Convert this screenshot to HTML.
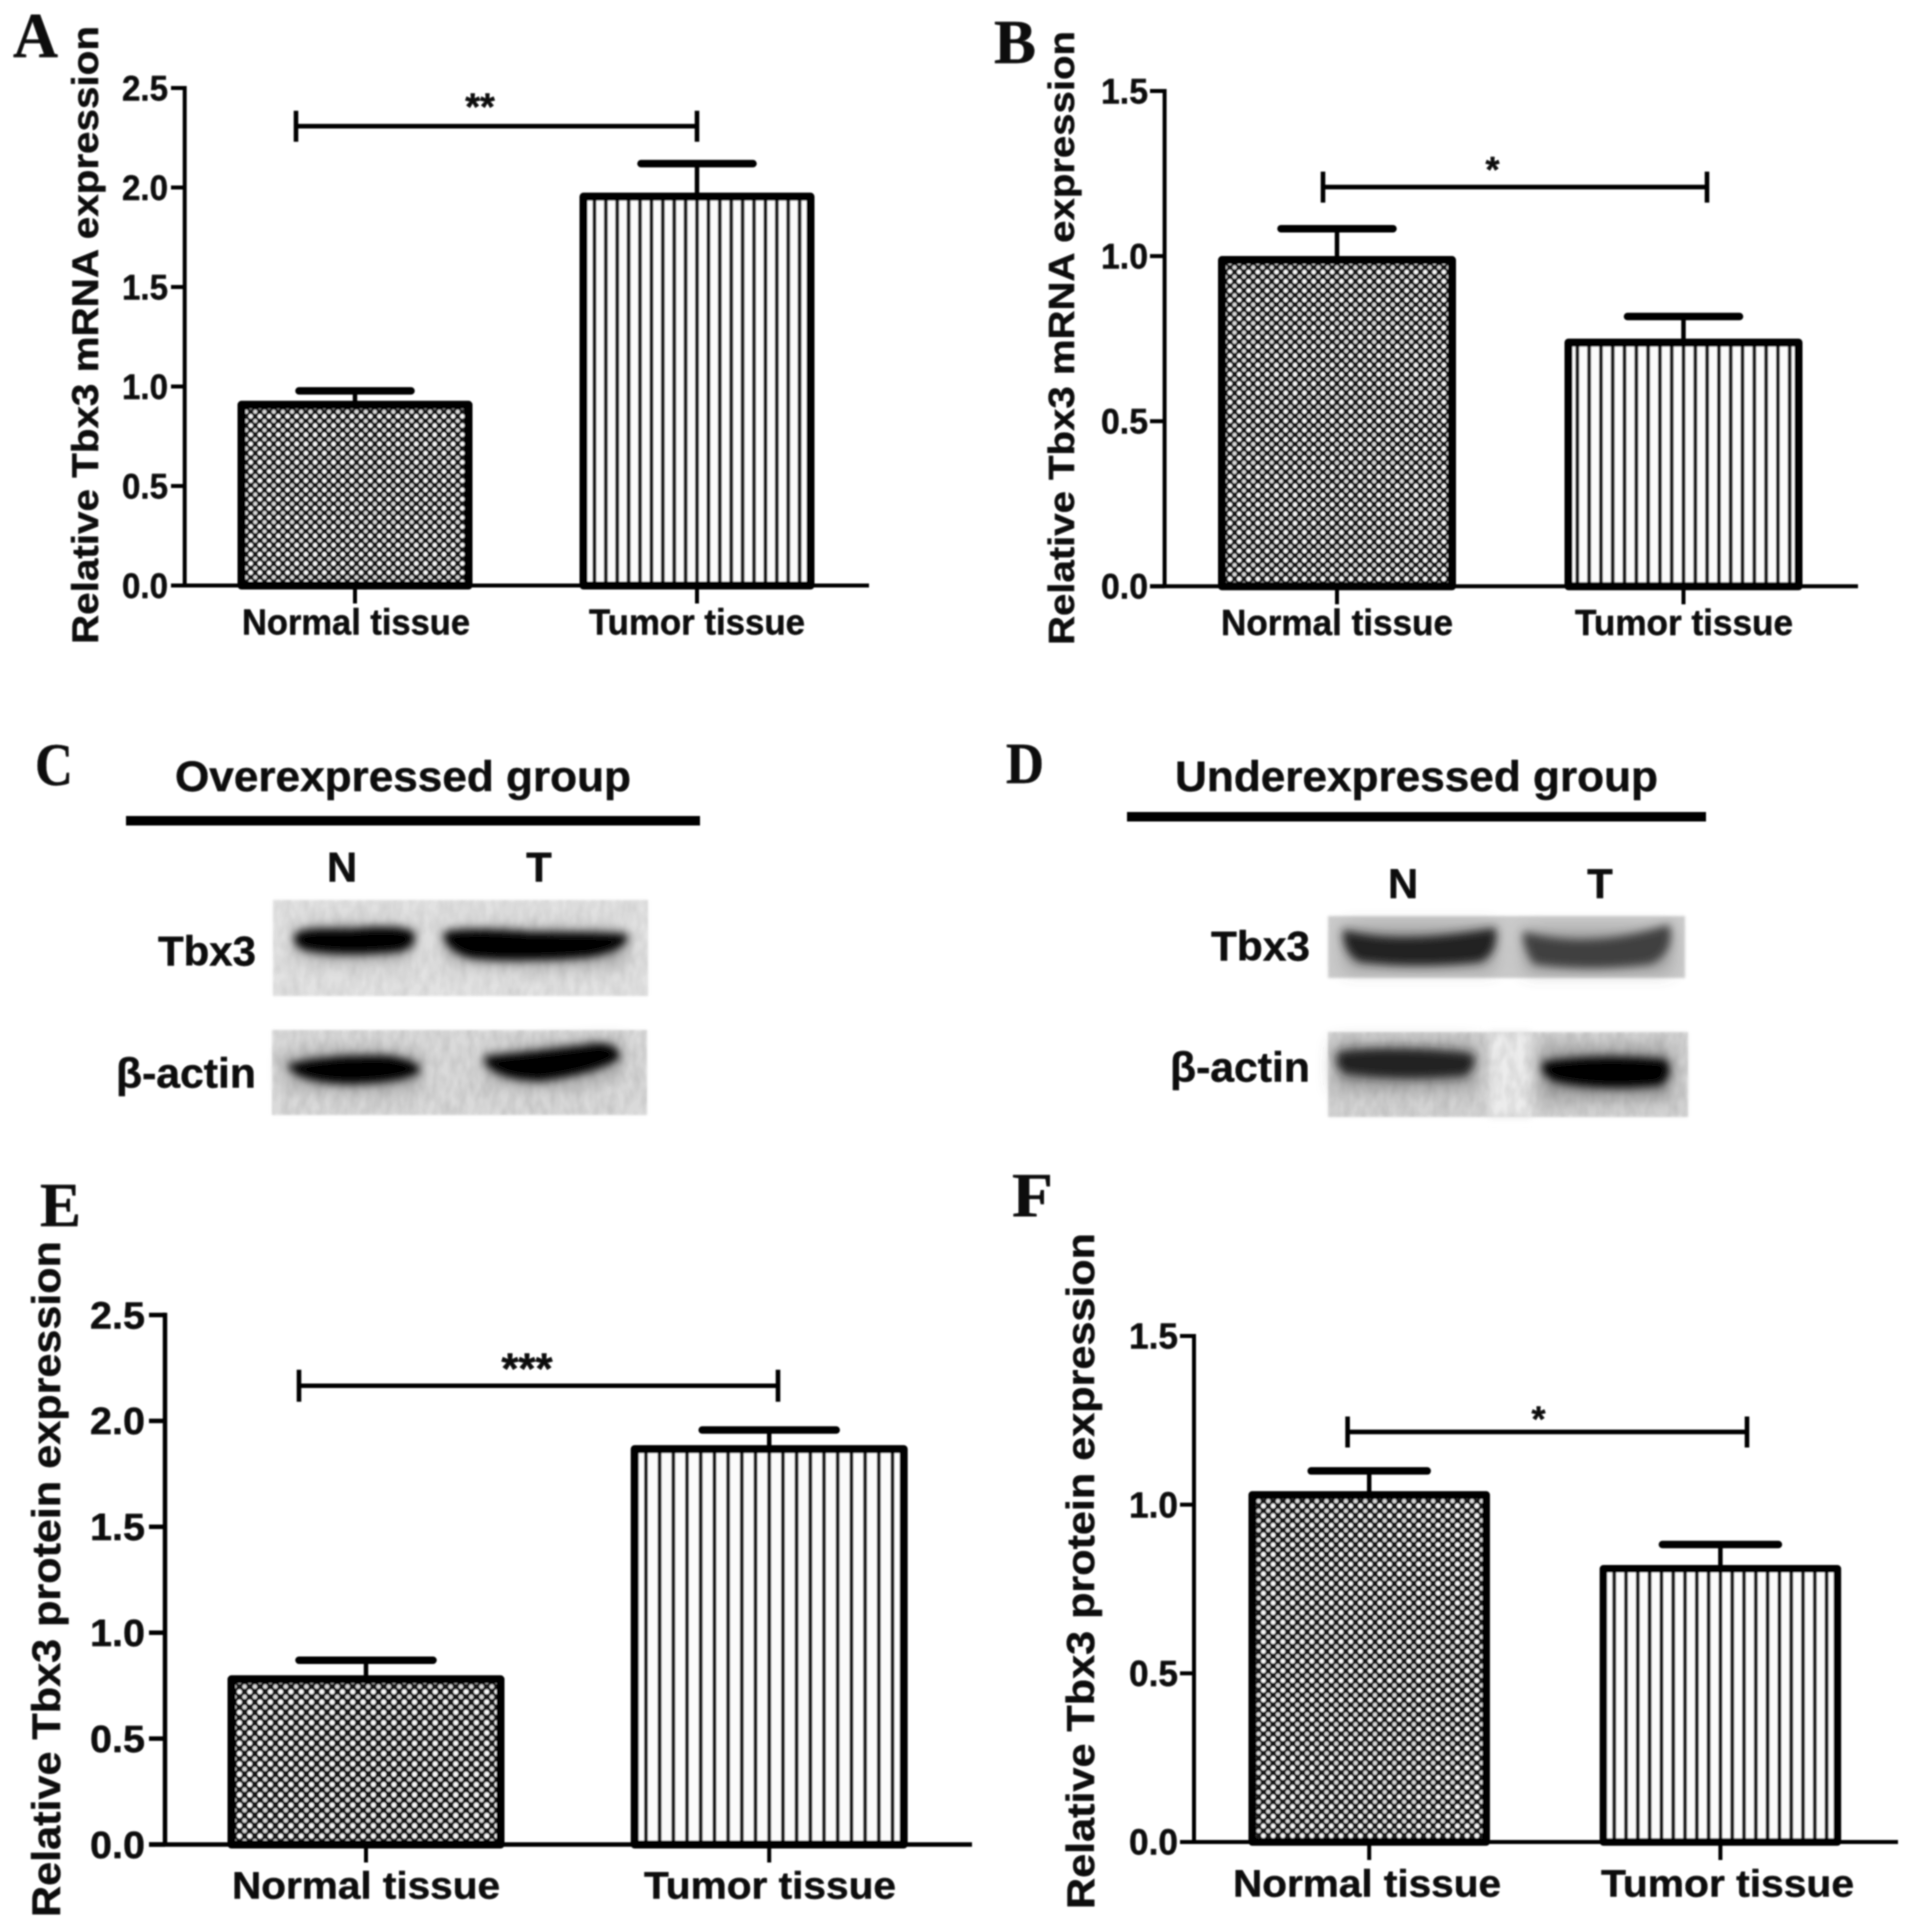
<!DOCTYPE html>
<html lang="en">
<head>
<meta charset="utf-8">
<title>Tbx3 expression figure</title>
<style>
html,body{margin:0;padding:0;background:#fff;}
svg{display:block;}
text{font-family:"Liberation Sans","DejaVu Sans",sans-serif;font-weight:bold;fill:#080808;stroke:#080808;stroke-width:0.4;}
.letter{font-family:"Liberation Serif","DejaVu Serif",serif;font-weight:bold;}
</style>
</head>
<body>
<svg id="figure" xmlns="http://www.w3.org/2000/svg" width="1913" height="1931" viewBox="0 0 1913 1931">
  <defs>
    <filter id="soft" x="-2%" y="-2%" width="104%" height="104%"><feGaussianBlur stdDeviation="0.8"/></filter>
    <filter id="bandBlur" x="-20%" y="-80%" width="140%" height="260%"><feGaussianBlur stdDeviation="4.4"/></filter>
    <filter id="haloBlur" x="-30%" y="-120%" width="160%" height="340%"><feGaussianBlur stdDeviation="9"/></filter>
    <filter id="grain" x="0" y="0" width="100%" height="100%">
      <feTurbulence type="fractalNoise" baseFrequency="0.12 0.06" numOctaves="2" seed="4"/>
      <feColorMatrix type="matrix" values="0 0 0 0 0  0 0 0 0 0  0 0 0 0 0  1.5 0 0 0 -0.45"/>
    </filter>
    <filter id="edge"><feGaussianBlur stdDeviation="1.2"/></filter>
  </defs>
  <rect x="0" y="0" width="1913" height="1931" fill="#ffffff"/>
  <g id="root" filter="url(#soft)">

    <g>
      <text class="letter" x="35" y="785" font-size="60" textLength="38" lengthAdjust="spacingAndGlyphs">C</text>
      <text x="175" y="791" font-size="43" textLength="456" lengthAdjust="spacingAndGlyphs">Overexpressed group</text>
      <rect x="126" y="816" width="574" height="9.5" fill="#000"/>
      <text x="342" y="881.5" font-size="42" text-anchor="middle">N</text>
      <text x="539" y="881.5" font-size="42" text-anchor="middle">T</text>
      <text x="158" y="965.5" font-size="42" textLength="98" lengthAdjust="spacingAndGlyphs">Tbx3</text>
      <text x="116" y="1087.5" font-size="42" textLength="140" lengthAdjust="spacingAndGlyphs">β-actin</text>

      <g>
        <rect filter="url(#edge)" x="273" y="900" width="375" height="96" fill="#e2e2e2"/>
        <rect filter="url(#grain)" x="273" y="900" width="375" height="96" opacity="0.08"/>
        <g transform="translate(0,3.5)">
          <path filter="url(#haloBlur)" opacity="0.4" d="M296,925 Q350,918 413,925 L413,955 Q350,962 296,955Z M445,925 Q530,922 626,928 L626,962 Q530,968 445,958Z" fill="#555"/>
          <path filter="url(#bandBlur)" stroke="#000" stroke-width="3" d="M296,932 Q300,925 350,927 Q400,922 413,930 Q415,945 395,947 Q340,952 305,945 Q293,940 296,932Z" fill="#000"/>
          <path filter="url(#bandBlur)" stroke="#000" stroke-width="3" d="M445,930 Q470,925 530,930 Q600,930 626,932 Q628,945 590,952 Q520,958 470,953 Q445,945 445,930Z" fill="#000"/>
        </g>
      </g>
      <g>
        <rect filter="url(#edge)" x="272" y="1030" width="375" height="85" fill="#dadada"/>
        <rect filter="url(#grain)" x="272" y="1030" width="375" height="85" opacity="0.1"/>
        <path filter="url(#haloBlur)" opacity="0.4" transform="translate(0,5)" d="M285,1050 Q350,1042 420,1050 L420,1085 Q350,1092 285,1078Z M485,1050 Q550,1040 620,1036 L620,1070 Q550,1092 485,1075Z" fill="#555"/>
        <path filter="url(#bandBlur)" stroke="#000" stroke-width="4" transform="translate(0,6)" d="M290,1060 Q330,1050 390,1052 Q420,1058 418,1065 Q400,1075 350,1076 Q300,1075 290,1060Z" fill="#000"/>
        <path filter="url(#bandBlur)" stroke="#000" stroke-width="4" transform="translate(0,3)" d="M487,1055 Q540,1050 600,1042 Q620,1045 617,1055 Q590,1070 540,1076 Q500,1075 487,1060Z" fill="#000"/>
      </g>
    </g>

    <g>
      <text class="letter" x="1006" y="783" font-size="58" textLength="38" lengthAdjust="spacingAndGlyphs">D</text>
      <text x="1175" y="791" font-size="43" textLength="483" lengthAdjust="spacingAndGlyphs">Underexpressed group</text>
      <rect x="1127" y="812" width="579" height="9.5" fill="#000"/>
      <text x="1403" y="898" font-size="42" text-anchor="middle">N</text>
      <text x="1600" y="898" font-size="42" text-anchor="middle">T</text>
      <text x="1211" y="960.5" font-size="42" textLength="99" lengthAdjust="spacingAndGlyphs">Tbx3</text>
      <text x="1170" y="1081.5" font-size="42" textLength="140" lengthAdjust="spacingAndGlyphs">β-actin</text>

      <g>
        <rect filter="url(#edge)" x="1328" y="916" width="357" height="62" fill="#cacaca"/>
        <g transform="translate(0,2)">
          <path filter="url(#haloBlur)" opacity="0.45" d="M1345,925 H1494 V968 H1345Z M1525,928 H1670 V970 H1525Z" fill="#666"/>
          <path filter="url(#bandBlur)" stroke="#222" stroke-width="4" d="M1345,930 Q1400,945 1494,928 Q1496,950 1480,958 Q1420,965 1360,958 Q1345,950 1345,930Z" fill="#222"/>
          <path filter="url(#bandBlur)" stroke="#404040" stroke-width="4" d="M1525,932 Q1590,950 1668,925 Q1672,950 1650,960 Q1590,968 1535,960 Q1525,945 1525,932Z" fill="#404040"/>
        </g>
      </g>
      <g>
        <rect filter="url(#edge)" x="1328" y="1032" width="360" height="85" fill="#d4d4d4"/>
        <rect filter="url(#bandBlur)" x="1488" y="1032" width="44" height="85" fill="#ececec"/>
        <rect filter="url(#grain)" x="1328" y="1032" width="360" height="85" opacity="0.1"/>
        <g transform="translate(0,3.5)">
          <path filter="url(#haloBlur)" opacity="0.5" d="M1335,1040 H1476 V1085 H1335Z M1540,1045 H1672 V1095 H1540Z" fill="#555"/>
          <path filter="url(#bandBlur)" stroke="#222" stroke-width="4" d="M1340,1050 Q1400,1044 1470,1052 Q1476,1060 1465,1070 Q1400,1076 1345,1068 Q1336,1060 1340,1050Z" fill="#222"/>
          <path filter="url(#bandBlur)" stroke="#000" stroke-width="4" d="M1545,1060 Q1600,1052 1665,1058 Q1672,1070 1660,1080 Q1600,1086 1555,1076 Q1540,1068 1545,1060Z" fill="#000"/>
        </g>
      </g>
    </g>

    <g id="charts"></g>
  </g>
</svg>

<script>
const categories = ['Normal tissue', 'Tumor tissue'];

const meansA = [0.908, 1.954];
const errorTopsA = [0.978, 2.12];
const ticksA = ['0.0', '0.5', '1.0', '1.5', '2.0', '2.5'];
const bracketValueA = 2.308;
const sigLabelA = '**';
const yTitleA = 'Relative Tbx3 mRNA expression';

const meansB = [0.988, 0.738];
const errorTopsB = [1.083, 0.817];
const ticksB = ['0.0', '0.5', '1.0', '1.5'];
const bracketValueB = 1.209;
const sigLabelB = '*';
const yTitleB = 'Relative Tbx3 mRNA expression';

const meansE = [0.78, 1.867];
const errorTopsE = [0.87, 1.957];
const ticksE = ['0.0', '0.5', '1.0', '1.5', '2.0', '2.5'];
const bracketValueE = 2.166;
const sigLabelE = '***';
const yTitleE = 'Relative Tbx3 protein expression';

const meansF = [1.029, 0.81];
const errorTopsF = [1.10, 0.882];
const ticksF = ['0.0', '0.5', '1.0', '1.5'];
const bracketValueF = 1.2155;
const sigLabelF = '*';
const yTitleF = 'Relative Tbx3 protein expression';

const panels = [
  { id: 'a', letter: 'A', means: meansA, errorTops: errorTopsA, ticks: ticksA, bracketValue: bracketValueA, sig: sigLabelA, yTitle: yTitleA,
    frame: { axisX: 184.7, top: 88, bottom: 585.5, tickLeft: 171, right: 869, sw: 4 },
    band: { first: 355, step: 342, width: 227, capW: 112, stroke: 8 },
    bracket: { x1: 296, x2: 697, half: 15.5, starX: 480, starDy: 27, starFs: 38 },
    tickFont: { fs: 35, len: 46, gap: 3 }, catFont: { fs: 36, baseline: 634.5, lens: [228, 216], starts: [242, 589] },
    title: { x: 98, start: 644, len: 618, fs: 37 },
    letterBox: { x: 13, y: 57, fs: 63, w: 45 }, dot: 9.2, stripe: 11.4 },
  { id: 'b', letter: 'B', means: meansB, errorTops: errorTopsB, ticks: ticksB, bracketValue: bracketValueB, sig: sigLabelB, yTitle: yTitleB,
    frame: { axisX: 1164.6, top: 91, bottom: 586.3, tickLeft: 1150, right: 1858, sw: 4 },
    band: { first: 1337, step: 346.5, width: 230, capW: 112, stroke: 8 },
    bracket: { x1: 1323, x2: 1707, half: 15.5, starX: 1492.5, starDy: 24.5, starFs: 36 },
    tickFont: { fs: 35, len: 47, gap: 2 }, catFont: { fs: 36, baseline: 635, lens: [232, 218], starts: [1221, 1575] },
    title: { x: 1074, start: 645, len: 614, fs: 36 },
    letterBox: { x: 994, y: 63, fs: 62, w: 42 }, dot: 9.3, stripe: 11.8 },
  { id: 'e', letter: 'E', means: meansE, errorTops: errorTopsE, ticks: ticksE, bracketValue: bracketValueE, sig: sigLabelE, yTitle: yTitleE,
    frame: { axisX: 165, top: 1315, bottom: 1844.5, tickLeft: 149, right: 972, sw: 4.5 },
    band: { first: 366, step: 403.2, width: 269, capW: 134, stroke: 8 },
    bracket: { x1: 299, x2: 778, half: 16, starX: 527, starDy: 26, starFs: 44 },
    tickFont: { fs: 38, len: 55, gap: 4 }, catFont: { fs: 38, baseline: 1898.5, lens: [268, 252], starts: [232, 644] },
    title: { x: 60, start: 1917, len: 676, fs: 40 },
    letterBox: { x: 40, y: 1226, fs: 62, w: 41 }, dot: 10.3, stripe: 13.7 },
  { id: 'f', letter: 'F', means: meansF, errorTops: errorTopsF, ticks: ticksF, bracketValue: bracketValueF, sig: sigLabelF, yTitle: yTitleF,
    frame: { axisX: 1194, top: 1336, bottom: 1842, tickLeft: 1180, right: 1898, sw: 4 },
    band: { first: 1369.2, step: 351.2, width: 234, capW: 116, stroke: 7.5 },
    bracket: { x1: 1347.6, x2: 1747, half: 15.5, starX: 1538.5, starDy: 20, starFs: 36 },
    tickFont: { fs: 36, len: 49, gap: 2 }, catFont: { fs: 38, baseline: 1896.6, lens: [268, 253], starts: [1233, 1601] },
    title: { x: 1094, start: 1909, len: 676, fs: 39 },
    letterBox: { x: 1012, y: 1216, fs: 62, w: 41 }, dot: 9.7, stripe: 11.8 }
];

const SVGNS = 'http://www.w3.org/2000/svg';
const defs = document.querySelector('#figure defs');
const chartsRoot = document.getElementById('charts');

function make(tag, attrs, parent) {
  const node = document.createElementNS(SVGNS, tag);
  Object.keys(attrs).forEach(function (k) { node.setAttribute(k, attrs[k]); });
  if (parent) parent.appendChild(node);
  return node;
}

function addPatterns(p) {
  const d = p.dot;
  const dots = make('pattern', { id: 'dots-' + p.id, patternUnits: 'userSpaceOnUse', width: d, height: d }, defs);
  make('rect', { x: 0, y: 0, width: d, height: d, fill: '#141414' }, dots);
  make('circle', { cx: d * 0.25, cy: d * 0.25, r: d * 0.245, fill: '#f8f8f8' }, dots);
  make('circle', { cx: d * 0.75, cy: d * 0.75, r: d * 0.225, fill: '#d8d8d8' }, dots);
  const s = p.stripe;
  const stripeCenter = p.band.first + p.band.step;
  const stripes = make('pattern', { id: 'stripes-' + p.id, patternUnits: 'userSpaceOnUse', width: s, height: 10, patternTransform: 'translate(' + (stripeCenter - 1.9) + ' 0)' }, defs);
  make('rect', { x: 0, y: 0, width: s, height: 10, fill: '#fbfbfb' }, stripes);
  make('rect', { x: 0, y: 0, width: 3.8, height: 10, fill: '#1a1a1a' }, stripes);
}

function drawPanel(p) {
  addPatterns(p);
  const f = p.frame;
  const b = p.band;
  const maxVal = parseFloat(p.ticks[p.ticks.length - 1]);
  const yScale = function (v) { return f.bottom - (v / maxVal) * (f.bottom - f.top); };
  const xScale = function (i) { return b.first + i * b.step; };

  const group = make('g', {}, chartsRoot);
  
  

  const letter = make('text', { class: 'letter', x: p.letterBox.x, y: p.letterBox.y, 'font-size': p.letterBox.fs, textLength: p.letterBox.w, lengthAdjust: 'spacingAndGlyphs' }, group);
  
  
  letter.textContent = p.letter;

  const title = make('text', { x: p.title.x, y: p.title.start, 'font-size': p.title.fs, transform: 'rotate(-90 ' + p.title.x + ' ' + p.title.start + ')', textLength: p.title.len, lengthAdjust: 'spacingAndGlyphs' }, group);
  
  
  title.textContent = p.yTitle;

  p.means.forEach(function (value, i) {
    const cx = xScale(i);
    const yTop = yScale(value);
    const bar = make('rect', {
      x: cx - b.width / 2, y: yTop, width: b.width, height: f.bottom - yTop,
      fill: 'url(#' + (i === 0 ? 'dots-' : 'stripes-') + p.id + ')',
      stroke: '#050505', 'stroke-width': b.stroke, 'stroke-linejoin': 'round'
    }, group);
    
    

    const yErr = yScale(p.errorTops[i]);
    const stem = make('line', { x1: cx, x2: cx, y1: yErr, y2: yTop, stroke: '#050505', 'stroke-width': 4.5 }, group);
    
    

    const cap = make('line', { x1: cx - b.capW / 2, x2: cx + b.capW / 2, y1: yErr, y2: yErr, stroke: '#050505', 'stroke-width': 7.5, 'stroke-linecap': 'round' }, group);
    
    
  });

  const yAxis = make('line', { x1: f.axisX, x2: f.axisX, y1: f.top - f.sw / 2, y2: f.bottom, stroke: '#050505', 'stroke-width': f.sw }, group);
  
  

  const xAxis = make('line', { x1: f.tickLeft, x2: f.right, y1: f.bottom, y2: f.bottom, stroke: '#050505', 'stroke-width': f.sw }, group);
  
  

  p.ticks.forEach(function (label) {
    const v = parseFloat(label);
    const y = yScale(v);
    const tick = make('line', { x1: f.tickLeft, x2: f.axisX, y1: y, y2: y, stroke: '#050505', 'stroke-width': f.sw }, group);
    
    

    const txt = make('text', {
      x: f.tickLeft - p.tickFont.gap - p.tickFont.len, y: y + p.tickFont.fs * 0.35,
      'font-size': p.tickFont.fs, textLength: p.tickFont.len, lengthAdjust: 'spacingAndGlyphs'
    }, group);
    
    
    txt.textContent = label;
  });

  categories.forEach(function (cat, i) {
    const cx = xScale(i);
    const tick = make('line', { x1: cx, x2: cx, y1: f.bottom, y2: f.bottom + 18, stroke: '#050505', 'stroke-width': 4 }, group);
    
    

    const txt = make('text', {
      x: p.catFont.starts[i], y: p.catFont.baseline, 'font-size': p.catFont.fs,
      textLength: p.catFont.lens[i], lengthAdjust: 'spacingAndGlyphs'
    }, group);
    
    
    txt.textContent = cat;
  });

  const br = p.bracket;
  const by = yScale(p.bracketValue);
  const bracketLine = make('path', {
    d: 'M' + br.x1 + ' ' + (by - br.half) + 'V' + (by + br.half) + 'M' + br.x1 + ' ' + by + 'H' + br.x2 + 'M' + br.x2 + ' ' + (by - br.half) + 'V' + (by + br.half),
    fill: 'none', stroke: '#050505', 'stroke-width': 4.6
  }, group);
  
  

  const star = make('text', { x: br.starX, y: by - br.starDy + br.starFs * 0.54, 'font-size': br.starFs, 'text-anchor': 'middle' }, group);
  
  
  star.textContent = p.sig;
}

panels.forEach(drawPanel);
</script>
</body>
</html>
